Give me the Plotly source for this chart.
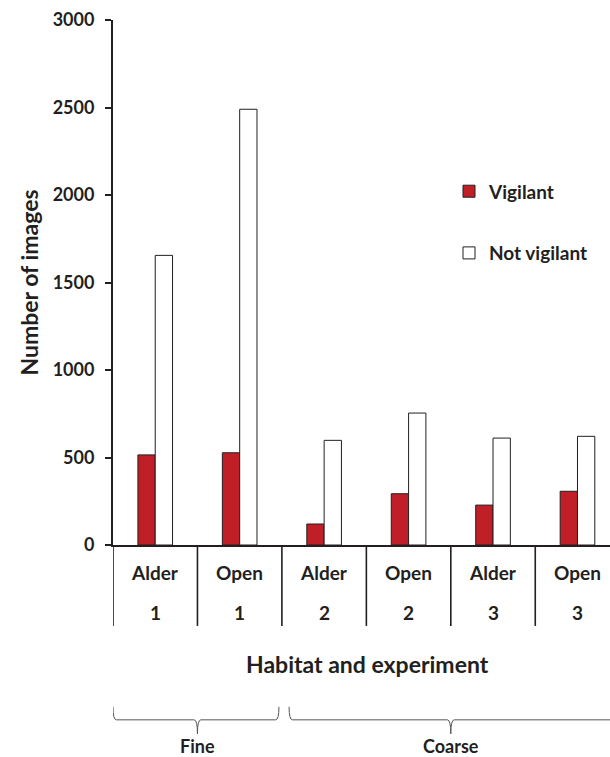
import plotly.graph_objects as go

habitats = ["Alder", "Open", "Alder", "Open", "Alder", "Open"]
experiments = ["1", "1", "2", "2", "3", "3"]
vigilant = [515, 527, 120, 293, 228, 307]
not_vigilant = [1655, 2490, 598, 754, 611, 621]
groups = ["Fine", "Coarse"]
group_spans = [(0, 1), (2, 5)]
y_ticks = [0, 500, 1000, 1500, 2000, 2500, 3000]

FONT = "Lato"
INK = "#231f20"
RED = "#c01f27"

# pixel helpers (plot area: top 19.5, bottom 545)
TOP, BOT = 19.5, 545.0
def py(p):
    return (BOT - p) / (BOT - TOP)

def bold(size):
    return dict(size=size, color=INK, family=FONT, weight="bold")

cats = list(range(len(habitats)))

fig = go.Figure()
fig.add_trace(go.Bar(x=cats, y=vigilant, name="Vigilant", legendgroup="a",
                     marker=dict(color=RED, line=dict(color=INK, width=1))))
fig.add_trace(go.Bar(x=cats, y=not_vigilant, name="Not vigilant", legendgroup="b",
                     marker=dict(color="white", line=dict(color=INK, width=1))))

annotations = []
shapes = []
for i, (h, e) in enumerate(zip(habitats, experiments)):
    annotations.append(dict(x=i, y=py(573), xref="x", yref="paper", text=h, yanchor="middle",
                            showarrow=False, font=bold(19)))
    annotations.append(dict(x=i, y=py(613), xref="x", yref="paper", text=e, yanchor="middle",
                            showarrow=False, font=bold(19)))
for i in range(len(habitats) + 1):
    shapes.append(dict(type="line", xref="x", yref="paper", x0=i - 0.5, x1=i - 0.5,
                       y0=py(545), y1=py(626), line=dict(color=INK, width=1.6)))

# braces
ytop, ybot, ytip = py(707), py(720), py(734)
for (a, b), g, pad in zip(group_spans, groups, [(0.0, 0.035), (0.085, 0.0)]):
    x0 = a - 0.5 + pad[0]
    x1 = b + 0.5 - pad[1]
    xm = (a + b) / 2
    d = 0.04
    path = (f"M {x0},{ytop} Q {x0},{ybot} {x0 + d},{ybot} L {xm - d},{ybot} "
            f"Q {xm},{ybot} {xm},{ytip} Q {xm},{ybot} {xm + d},{ybot} "
            f"L {x1 - d},{ybot} Q {x1},{ybot} {x1},{ytop}")
    shapes.append(dict(type="path", xref="x", yref="paper", path=path,
                       line=dict(color="#555555", width=1)))
    annotations.append(dict(x=xm, y=py(746), xref="x", yref="paper", text=g, yanchor="middle",
                            showarrow=False, font=bold(18)))

annotations.append(dict(x=(367 - 113) / 497, y=py(664), xref="paper", yref="paper",
                        yanchor="middle", text="Habitat and experiment", showarrow=False,
                        font=bold(23)))

fig.update_layout(
    width=610, height=757,
    margin=dict(l=113, r=0, t=19.5, b=212),
    paper_bgcolor="white", plot_bgcolor="white",
    barmode="group", bargap=0.59, bargroupgap=0,
    font=dict(family=FONT, color=INK),
    xaxis=dict(range=[-0.5, 5.385], showticklabels=False, ticks="", showgrid=False,
               zeroline=False, showline=True, linecolor=INK, linewidth=2),
    yaxis=dict(range=[0, 3000], tickvals=y_ticks,
               ticks="outside", ticklen=6, tickwidth=1.5, tickcolor=INK,
               ticklabelstandoff=7,
               showgrid=False, zeroline=False, showline=True, linecolor=INK, linewidth=2,
               tickfont=bold(18),
               title=dict(text="Number of images", font=bold(23), standoff=8)),
    legend=dict(x=(449 - 113) / 497, y=py(172), xanchor="left", yanchor="top",
                font=bold(19), tracegroupgap=34, bgcolor="rgba(0,0,0,0)"),
    annotations=annotations, shapes=shapes,
)
fig.write_html("out.html", config={"displayModeBar": False},
               post_script="document.body.style.margin='0';")
